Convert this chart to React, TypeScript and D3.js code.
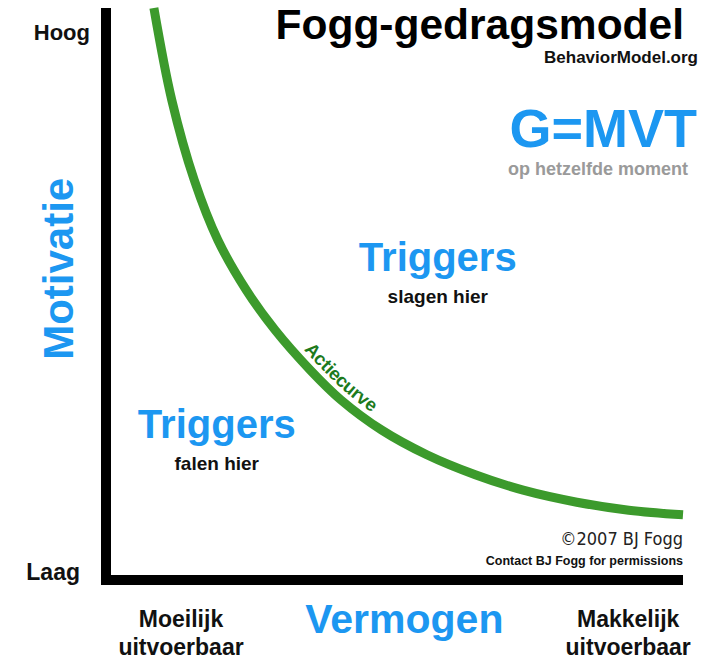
import React from 'react';
import * as d3 from 'd3';

// action curve (ability 0-100, motivation 0-100)
const ability = [8.3, 11.4, 15.3, 19.4, 24.3, 29.3, 35.4, 40.7, 47.8, 55.6, 64.0, 72.3, 81.6, 90.6, 100];
const motivation = [100, 83.9, 69.9, 59.4, 50.7, 43.7, 36.7, 31.5, 26.2, 21.9, 18.4, 15.7, 13.6, 12.2, 11.4];

const yTicks = [
  { value: 100, label: 'Hoog' },
  { value: 0, label: 'Laag' },
];
const xTicks = [
  { value: 13, lines: ['Moeilijk', 'uitvoerbaar'] },
  { value: 90.5, lines: ['Makkelijk', 'uitvoerbaar'] },
];

const title = 'Fogg-gedragsmodel';
const site = 'BehaviorModel.org';
const formula = 'G=MVT';
const formulaSub = 'op hetzelfde moment';
const curveLabel = 'Actiecurve';
const zones = [
  { ability: 57.5, motivation: 54, head: 'Triggers', sub: 'slagen hier' },
  { ability: 19.2, motivation: 24.8, head: 'Triggers', sub: 'falen hier' },
];

const BLUE = '#1c97f1';
const GREEN = '#3c9a2c';
const FONT = '"Liberation Sans", Arial, Helvetica, sans-serif';

const W = 710;
const H = 663;

export default function App() {
  const x = d3.scaleLinear().domain([0, 100]).range([106, 683]);
  const y = d3.scaleLinear().domain([0, 100]).range([580, 8]);

  const pts: [number, number][] = ability.map((a, i) => [a, motivation[i]]);
  const line = d3
    .line<[number, number]>()
    .curve(d3.curveCatmullRom.alpha(0.5))
    .x(d => x(d[0]))
    .y(d => y(d[1]));

  const [x0, x1] = x.range();
  const [yb, yt] = y.range();

  return (
    <div style={{ position: 'absolute', left: 0, top: 0 }}>
      <svg width={W} height={H} style={{ display: 'block', background: '#fff' }} fontFamily={FONT}>
        {/* axes */}
        <rect x={x0 - 5} y={yt} width={10} height={yb - yt + 5} fill="#000" />
        <rect x={x0 - 5} y={yb - 5} width={x1 - x0 + 5} height={10} fill="#000" />

        {/* action curve */}
        <path id="actiecurve" d={line(pts) || ''} fill="none" stroke={GREEN} strokeWidth={9} />
        <text fontSize={18.5} fontWeight="bold" fill="#1c7a1c">
          <textPath href="#actiecurve" startOffset={382}>
            <tspan dy={-9}>{curveLabel}</tspan>
          </textPath>
        </text>

        {/* y ticks */}
        <text x={90} y={y(100) + 32} textAnchor="end" fontSize={22} fontWeight="bold" fill="#111">
          {yTicks[0].label}
        </text>
        <text x={80} y={y(0)} textAnchor="end" fontSize={23} fontWeight="bold" fill="#111">
          {yTicks[1].label}
        </text>
        <text
          transform={`translate(73, ${y(54.4)}) rotate(-90)`}
          textAnchor="middle"
          fontSize={42}
          fontWeight="bold"
          fill={BLUE}
        >
          Motivatie
        </text>

        {/* x ticks */}
        {xTicks.map(t => (
          <text key={t.lines[0]} x={x(t.value)} y={627} textAnchor="middle" fontSize={23} fontWeight="bold" fill="#111">
            <tspan x={x(t.value)}>{t.lines[0]}</tspan>
            <tspan x={x(t.value)} dy={28}>{t.lines[1]}</tspan>
          </text>
        ))}
        <text x={x(51.7)} y={633} textAnchor="middle" fontSize={41} fontWeight="bold" fill={BLUE}>
          Vermogen
        </text>

        {/* zone labels */}
        {zones.map(z => (
          <g key={z.sub}>
            <text x={x(z.ability)} y={y(z.motivation)} textAnchor="middle" fontSize={40} fontWeight="bold" fill={BLUE}>
              {z.head}
            </text>
            <text x={x(z.ability)} y={y(z.motivation) + 32} textAnchor="middle" fontSize={19} fontWeight="bold" fill="#111">
              {z.sub}
            </text>
          </g>
        ))}

        {/* title block */}
        <text x={684} y={39} textAnchor="end" fontSize={42.5} fontWeight="bold" fill="#000">
          {title}
        </text>
        <text x={698} y={63} textAnchor="end" fontSize={17} fontWeight="bold" fill="#111">
          {site}
        </text>
        <text x={697} y={147} textAnchor="end" fontSize={54} fontWeight="bold" fill={BLUE}>
          {formula}
        </text>
        <text x={688} y={175} textAnchor="end" fontSize={18} fontWeight="bold" fill="#9a9a9a">
          {formulaSub}
        </text>

        {/* credits */}
        <text
          x={683}
          y={545}
          textAnchor="end"
          fontSize={18}
          fill="#222"
          fontFamily='"Liberation Sans Narrow", "DejaVu Sans Condensed", "Arial Narrow", sans-serif'
          style={{ fontStretch: 'condensed' }}
        >
          ©2007 BJ Fogg
        </text>
        <text x={683} y={565} textAnchor="end" fontSize={12.5} fontWeight="bold" fill="#111">
          Contact BJ Fogg for permissions
        </text>
      </svg>
    </div>
  );
}
